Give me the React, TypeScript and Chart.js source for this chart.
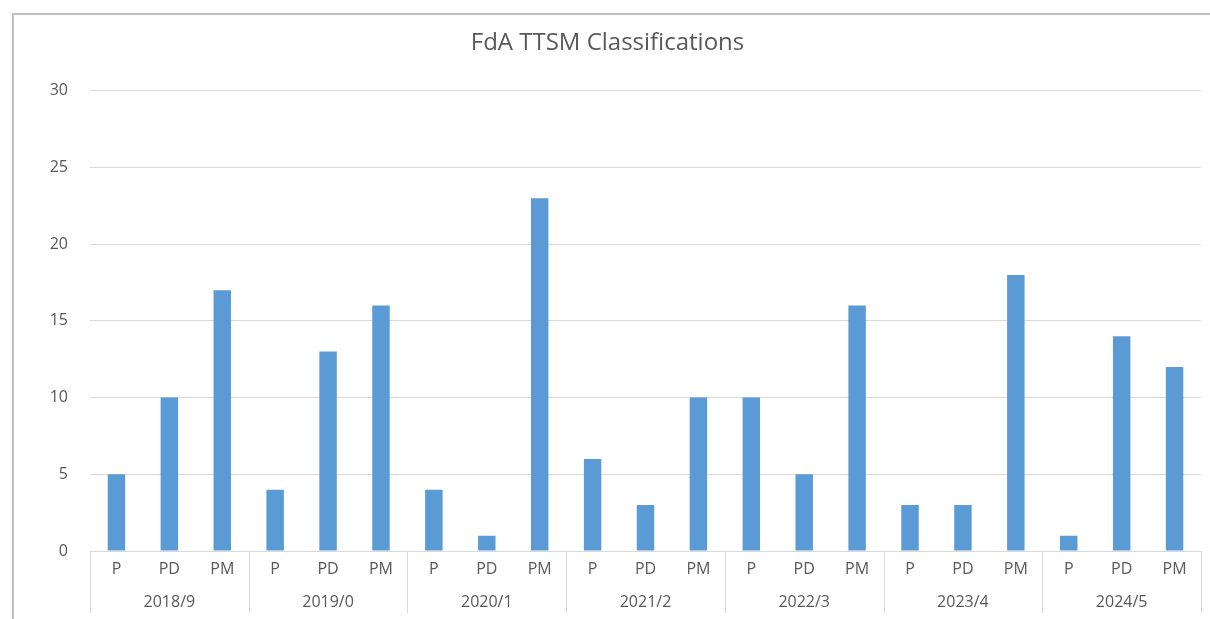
import React, { useEffect, useRef } from "react";
import { Chart, registerables } from "chart.js";

Chart.register(...registerables);

const groups = ["2018/9", "2019/0", "2020/1", "2021/2", "2022/3", "2023/4", "2024/5"];
const subCategories = ["P", "PD", "PM"];
const values = [5, 10, 17, 4, 13, 16, 4, 1, 23, 6, 3, 10, 10, 5, 16, 3, 3, 18, 1, 14, 12];
const yTicks = [0, 5, 10, 15, 20, 25, 30];

const labels = groups.flatMap(() => subCategories);
const FONT = "'Open Sans', 'Liberation Sans', sans-serif";
const TEXT = "#595959";
const GRID = "#D9D9D9";

const separatorPlugin = {
  id: "groupSeparators",
  afterDraw(chart: any) {
    const x = chart.scales.x;
    const ctx = chart.ctx;
    const half = (x.getPixelForValue(1) - x.getPixelForValue(0)) / 2;
    const top = chart.chartArea.bottom;
    const bottom = top + 62;
    ctx.save();
    ctx.strokeStyle = GRID;
    ctx.lineWidth = 1;
    for (let g = 0; g <= groups.length; g++) {
      const px = Math.round(x.getPixelForValue(g * subCategories.length) - half) + 0.5;
      ctx.beginPath();
      ctx.moveTo(px, top);
      ctx.lineTo(px, bottom);
      ctx.stroke();
    }
    ctx.restore();
  },
};

export default function App() {
  const ref = useRef<HTMLCanvasElement>(null);
  useEffect(() => {
    if (!ref.current) return;
    const chart = new Chart(ref.current, {
      type: "bar",
      data: {
        labels,
        datasets: [
          {
            data: values,
            backgroundColor: "#5B9BD5",
            borderWidth: 0,
            barPercentage: 0.33,
            categoryPercentage: 1,
          },
        ],
      },
      plugins: [separatorPlugin],
      options: {
        animation: false,
        responsive: false,
        maintainAspectRatio: false,
        layout: { padding: { left: 0, right: 9, top: 0, bottom: 0 } },
        plugins: {
          legend: { display: false },
          tooltip: { enabled: false },
          title: {
            display: true,
            text: "FdA TTSM Classifications",
            color: TEXT,
            font: { family: FONT, size: 24, weight: "normal" },
            padding: { top: 14, bottom: 33 },
          },
        },
        scales: {
          x: {
            type: "category",
            position: "bottom",
            offset: true,
            grid: { display: false, drawTicks: false },
            border: { display: true, color: GRID, width: 1 },
            ticks: {
              color: TEXT,
              font: { family: FONT, size: 16 },
              padding: 9,
              maxRotation: 0,
              autoSkip: false,
            },
            afterFit(scale: any) {
              scale.height = 36;
            },
          },
          x2: {
            type: "category",
            position: "bottom",
            labels: groups,
            offset: true,
            grid: { display: false, drawTicks: false },
            border: { display: false },
            ticks: {
              color: TEXT,
              font: { family: FONT, size: 16 },
              padding: 6,
              maxRotation: 0,
              autoSkip: false,
            },
            afterFit(scale: any) {
              scale.height = 32;
            },
          },
          y: {
            min: 0,
            max: 30,
            afterBuildTicks(scale: any) {
              scale.ticks = yTicks.map((v) => ({ value: v }));
            },
            grid: { color: GRID, drawTicks: false },
            border: { display: false },
            ticks: {
              color: TEXT,
              font: { family: FONT, size: 16 },
              padding: 22,
            },
            afterFit(scale: any) {
              scale.width = 76;
            },
          },
        },
      },
    });
    return () => chart.destroy();
  }, []);

  return (
    <div
      style={{
        position: "fixed",
        left: 12,
        top: 13,
        width: 1210,
        height: 620,
        border: "2px solid #BFBFBF",
        background: "#fff",
        boxSizing: "border-box",
      }}
    >
      <canvas ref={ref} width={1196} height={604} style={{ display: "block" }} />
    </div>
  );
}
